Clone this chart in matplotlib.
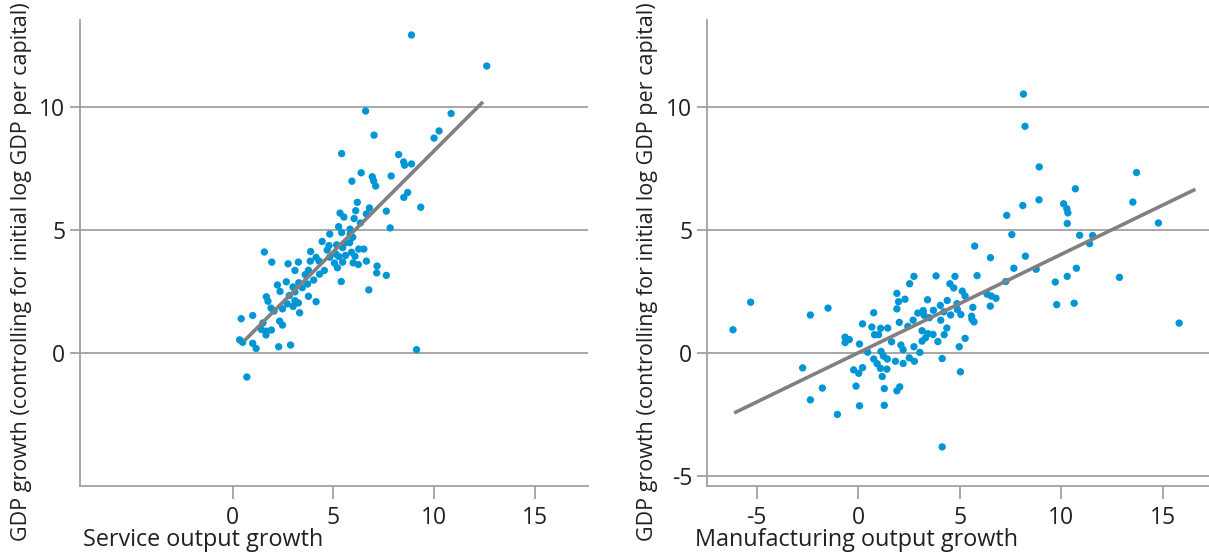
import matplotlib
matplotlib.use('Agg')
import matplotlib.pyplot as plt
import numpy as np

plt.rcParams['font.family'] = ['Open Sans', 'DejaVu Sans']
plt.rcParams['axes.unicode_minus'] = False

# service output growth vs GDP growth
service_x = [8.88, 12.62, 6.60, 10.85, 10.25, 10.0, 7.02, 5.41, 8.24, 8.49,
             8.54, 8.88, 6.38, 6.93, 7.0, 7.10, 7.87, 5.92, 8.69, 8.5,
             9.34, 6.19, 6.11, 6.79, 6.64, 7.63, 5.33, 5.52, 6.03, 6.34,
             5.26, 7.82, 5.83, 5.41, 4.82, 5.83, 5.96, 4.44, 5.54, 5.16,
             4.78, 4.69, 5.46, 6.26, 6.51, 1.57, 3.87, 4.14, 4.82, 5.12,
             5.90, 6.07, 4.29, 3.85, 1.94, 3.26, 2.75, 5.05, 5.46, 5.98,
             6.24, 6.64, 7.17, 5.2, 3.09, 4.55, 3.76, 3.6, 4.31, 7.15,
             7.63, 4.02, 2.66, 5.39, 3.72, 2.22, 3.28, 2.99, 3.45, 3.09,
             2.35, 3.76, 6.76, 2.81, 1.67, 1.75, 3.09, 3.26, 4.14, 2.71,
             3.0, 1.9, 2.47, 2.05, 3.32, 0.99, 0.42, 2.33, 2.47, 1.5,
             1.42, 1.67, 1.92, 1.65, 0.34, 0.49, 0.99, 1.16, 2.28, 2.87,
             9.13, 0.70, 5.81, 5.26, 5.6]
service_y = [12.93, 11.67, 9.84, 9.74, 9.03, 8.74, 8.86, 8.11, 8.07, 7.77,
             7.64, 7.69, 7.33, 7.17, 7.0, 6.79, 7.2, 6.99, 6.53, 6.33,
             5.93, 6.13, 5.79, 5.9, 5.66, 5.77, 5.69, 5.53, 5.47, 5.29,
             5.14, 5.09, 5.04, 4.9, 4.84, 4.83, 4.71, 4.54, 4.46, 4.4,
             4.37, 4.19, 4.29, 4.23, 4.23, 4.11, 4.13, 3.89, 3.9, 4.03,
             4.1, 3.94, 3.74, 3.74, 3.7, 3.7, 3.63, 3.66, 3.7, 3.67,
             3.6, 3.74, 3.54, 3.47, 3.36, 3.36, 3.37, 3.19, 3.21, 3.26,
             3.16, 2.97, 2.9, 2.91, 2.81, 2.77, 2.86, 2.69, 2.66, 2.49,
             2.51, 2.31, 2.57, 2.34, 2.29, 2.11, 2.13, 2.04, 2.09, 2.0,
             1.9, 1.83, 1.8, 1.71, 1.64, 1.53, 1.4, 1.3, 1.14, 1.23,
             0.96, 0.89, 0.94, 0.74, 0.54, 0.44, 0.4, 0.19, 0.26, 0.33,
             0.14, -0.97, 4.49, 3.93, 3.97]
service_fit_x = [0.57, 12.43]
service_fit_y = [0.5, 10.21]

# manufacturing output growth vs GDP growth
manuf_x = [-6.17, -5.30, -2.36, -1.49, -2.74, -2.36, -1.77, -1.03, -0.65, -0.65,
           -0.44, -0.23, 0.02, -0.11, 0.06, 0.06, 0.21, 0.21, 0.46, 0.67,
           0.76, 0.8, 0.76, 1.0, 0.93, 1.09, 1.1, 1.12, 1.24, 1.18,
           1.28, 1.28, 1.41, 1.45, 1.43, 1.64, 1.83, 1.9, 2.04, 1.9,
           1.9, 1.98, 2.02, 2.1, 2.21, 2.21, 2.3, 2.44, 2.51, 2.53,
           2.7, 2.74, 2.76, 2.74, 2.93, 3.03, 3.14, 3.14, 3.2, 3.24,
           3.31, 3.41, 3.43, 3.5, 3.68, 3.7, 3.83, 3.92, 4.04, 4.06,
           4.13, 4.13, 4.21, 4.23, 4.36, 4.38, 4.51, 4.55, 4.7, 4.76,
           4.86, 4.88, 4.97, 5.03, 5.05, 5.12, 5.26, 5.26, 5.58, 5.6,
           5.7, 5.64, 5.73, 5.85, 6.34, 6.51, 6.5, 6.55, 6.78, 7.26,
           7.31, 7.56, 7.66, 8.1, 8.13, 8.21, 8.23, 8.76, 8.91, 8.9,
           9.7, 9.77, 10.11, 10.27, 10.32, 10.29, 10.29, 10.69, 10.74, 10.63,
           10.9, 11.39, 11.54, 12.86, 13.52, 13.7, 14.78, 15.8]
manuf_y = [0.95, 2.07, 1.55, 1.83, -0.6, -1.9, -1.42, -2.49, 0.65, 0.43,
           0.55, -0.68, -0.82, -1.34, -2.14, 0.37, -0.59, 1.19, 0.04, 1.06,
           1.64, 0.75, -0.24, 0.75, -0.43, -0.62, 1.01, 0.07, -0.12, -0.95,
           -1.44, -2.12, -0.65, 1.02, -0.24, 0.46, -0.33, -1.53, -1.37, 1.8,
           2.43, 2.09, 1.25, 0.33, 0.14, -0.42, 2.19, 1.09, -0.19, 2.82,
           1.34, 0.26, -0.33, 3.12, 1.63, 0.03, 0.49, 0.91, 1.73, 1.54,
           0.62, 2.17, 0.79, 1.44, 0.76, 1.74, 3.14, 0.47, 1.94, 1.34,
           -0.22, -3.81, 1.68, 0.75, 1.02, 2.14, 2.82, 1.55, 2.65, 3.12,
           2.01, 1.77, 0.26, -0.76, 1.57, 2.52, 2.32, 0.6, 1.5, 1.37,
           1.27, 1.86, 4.35, 3.15, 2.4, 3.88, 1.91, 2.32, 2.23, 2.91,
           5.6, 4.82, 3.45, 6.0, 10.53, 9.22, 3.94, 3.41, 7.57, 6.23,
           2.89, 1.97, 6.07, 5.87, 5.7, 5.27, 3.12, 6.68, 3.45, 2.03,
           4.79, 4.45, 4.78, 3.08, 6.14, 7.34, 5.29, 1.22]
manuf_fit_x = [-6.11, 16.6]
manuf_fit_y = [-2.43, 6.66]

ylabel = 'GDP growth (controlling for initial log GDP per capital)'

dot_color = '#0096d6'
grid_color = '#a0a0a0'
text_color = '#231f20'

fig = plt.figure(figsize=(12.09, 5.54), dpi=100)
ax1 = fig.add_axes([80/1209, 1-486/554, 508/1209, 466/554])
ax2 = fig.add_axes([707/1209, 1-486/554, 502/1209, 466/554])

panels = [
    (ax1, service_x, service_y, service_fit_x, service_fit_y,
     [0, 5, 10, 15], [0, 5, 10], (-7.59, 17.65)),
    (ax2, manuf_x, manuf_y, manuf_fit_x, manuf_fit_y,
     [-5, 0, 5, 10, 15], [-5, 0, 5, 10], (-7.45, 17.27)),
]

for ax, xs, ys, fx, fy, xticks, yticks, xlim in panels:
    ax.scatter(xs, ys, s=28, color=dot_color, edgecolors='none', zorder=3)
    ax.plot(fx, fy, color='#808080', lw=2.6, solid_capstyle='butt', zorder=4)
    ax.set_xlim(*xlim)
    ax.set_ylim(-5.4, 13.54)
    ax.set_xticks(xticks)
    ax.set_yticks(yticks)
    ax.grid(axis='y', color=grid_color, lw=1.3, zorder=1)
    ax.set_axisbelow(True)
    for side in ['top', 'right']:
        ax.spines[side].set_visible(False)
    for side in ['left', 'bottom']:
        ax.spines[side].set_color(grid_color)
        ax.spines[side].set_linewidth(1.3)
    ax.tick_params(axis='x', length=9.5, width=1.3, color=grid_color, pad=5,
                   labelsize=16.5, labelcolor=text_color)
    ax.tick_params(axis='y', length=7.5, width=1.3, color=grid_color, pad=3,
                   labelsize=16.5, labelcolor=text_color)

fig.text(22/1209, 1-541/554, ylabel, rotation=90, ha='center', va='bottom',
         fontsize=15.5, color=text_color)
fig.text(648/1209, 1-541/554, ylabel, rotation=90, ha='center', va='bottom',
         fontsize=15.5, color=text_color)
fig.text(83/1209, 1-546/554, 'Service output growth', ha='left', va='baseline',
         fontsize=16.8, color=text_color)
fig.text(695/1209, 1-546/554, 'Manufacturing output growth', ha='left', va='baseline',
         fontsize=16.8, color=text_color)

fig.savefig('out.png', dpi=100)
